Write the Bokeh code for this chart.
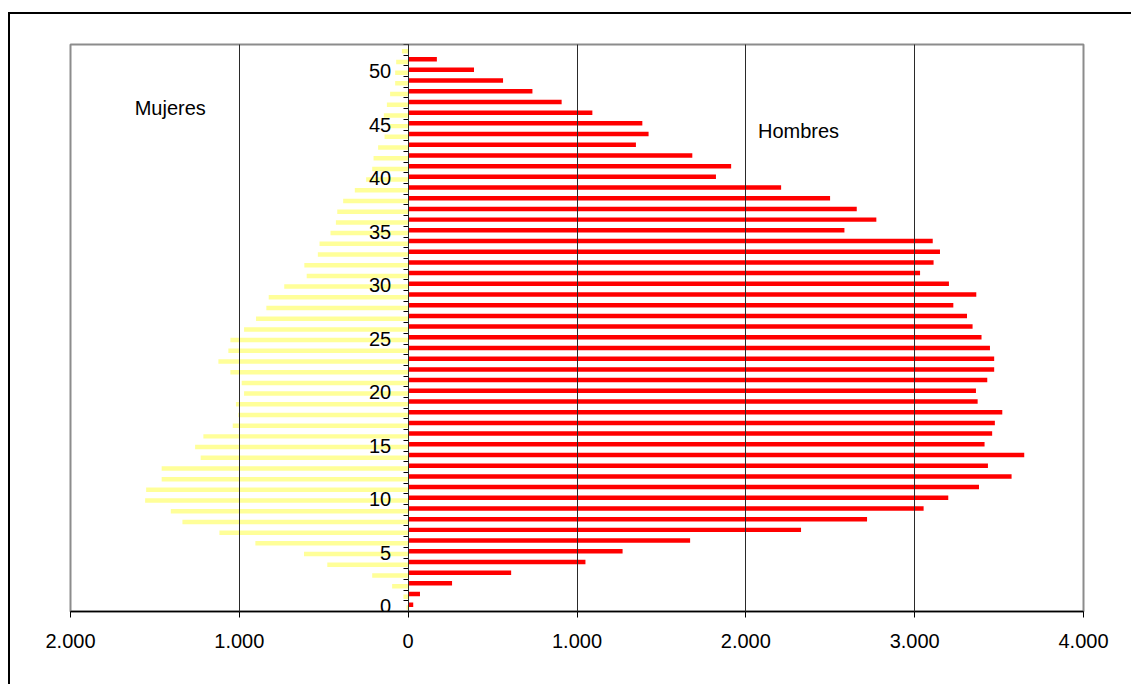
from bokeh.plotting import figure
from bokeh.models import ColumnDataSource, FixedTicker, Label
from bokeh.transform import dodge
from bokeh.embed import file_html
from bokeh.resources import INLINE

# Age in years (one category per year)
edades = list(range(53))

# Men per age
hombres = [30, 70, 260, 610, 1050, 1270, 1670, 2327, 2718, 3053,
           3199, 3381, 3574, 3434, 3649, 3414, 3459, 3475, 3519, 3373,
           3363, 3430, 3471, 3471, 3446, 3396, 3343, 3310, 3229, 3365,
           3203, 3032, 3112, 3150, 3107, 2584, 2773, 2657, 2499, 2209,
           1823, 1913, 1683, 1349, 1424, 1387, 1091, 909, 736, 562,
           390, 170, 0]

# Women per age
mujeres = [10, 28, 95, 213, 479, 617, 905, 1118, 1337, 1406,
           1558, 1552, 1460, 1460, 1229, 1262, 1213, 1039, 1006, 1020,
           972, 986, 1053, 1124, 1065, 1053, 972, 901, 840, 826,
           734, 601, 615, 535, 525, 460, 428, 420, 385, 316,
           249, 213, 205, 178, 140, 110, 144, 126, 107, 77,
           77, 71, 37]

x_ticks = [-2000, -1000, 0, 1000, 2000, 3000, 4000]
x_tick_labels = ["2.000", "1.000", "0", "1.000", "2.000", "3.000", "4.000"]
y_ticks = list(range(0, 51, 5))
y_tick_labels = [str(t) for t in y_ticks]

FONT = "Liberation Sans"

source = ColumnDataSource(dict(
    edad=edades,
    hombres=hombres,
    mujeres_izq=[-v for v in mujeres],
))

p = figure(width=1123, height=672,
           x_range=(-2000, 4000), y_range=(-0.5, len(edades) - 0.5),
           output_backend="svg", toolbar_location=None,
           min_border_left=60, min_border_right=50,
           min_border_top=30, min_border_bottom=75,
           background_fill_color="white", border_fill_color="white",
           outline_line_color="#8c8c8c", outline_line_width=2)

# Outer chart border (left and top edges)
p.margin = (12, 0, 0, 8)
p.styles = {"border-left": "2px solid black", "border-top": "2px solid black"}

p.hbar(y=dodge("edad", 0.13), left=0, right="hombres", height=0.42,
       fill_color="#FF0000", line_color=None, source=source)
p.hbar(y=dodge("edad", -0.13), left="mujeres_izq", right=0, height=0.42,
       fill_color="#FFFF99", line_color=None, source=source)

# Horizontal value axis
xa = p.xaxis[0]
xa.ticker = FixedTicker(ticks=x_ticks)
xa.major_label_overrides = dict(zip(x_ticks, x_tick_labels))
xa.axis_line_color = "black"
xa.axis_line_width = 1.5
xa.major_tick_line_color = "black"
xa.major_tick_out = 6
xa.major_tick_in = 0
xa.minor_tick_line_color = None
xa.major_label_standoff = 16
xa.major_label_text_font = FONT
xa.major_label_text_font_size = "20px"
xa.major_label_text_color = "black"

# Age axis sitting on x = 0, ticks between categories
ya = p.yaxis[0]
ya.fixed_location = 0
ya.ticker = FixedTicker(ticks=y_ticks,
                        minor_ticks=[k - 0.5 for k in range(len(edades) + 1)])
ya.major_label_overrides = dict(zip(y_ticks, y_tick_labels))
ya.axis_line_color = "black"
ya.axis_line_width = 1
ya.major_tick_line_color = None
ya.major_tick_out = 0
ya.major_tick_in = 0
ya.minor_tick_line_color = "black"
ya.minor_tick_out = 5
ya.minor_tick_in = 0
ya.major_label_standoff = 12
ya.major_label_text_font = FONT
ya.major_label_text_font_size = "20px"
ya.major_label_text_color = "black"

p.ygrid.visible = False
p.xgrid.grid_line_color = "#2a2a2a"
p.xgrid.grid_line_width = 1
p.xgrid.level = "annotation"

p.add_layout(Label(x=-1409, y=46.6, text="Mujeres", text_align="center",
                   text_baseline="alphabetic", text_font=FONT,
                   text_font_size="20px", text_color="black"))
p.add_layout(Label(x=2312, y=44.4, text="Hombres", text_align="center",
                   text_baseline="alphabetic", text_font=FONT,
                   text_font_size="20px", text_color="black"))

open("out.html", "w").write(file_html(p, INLINE))
